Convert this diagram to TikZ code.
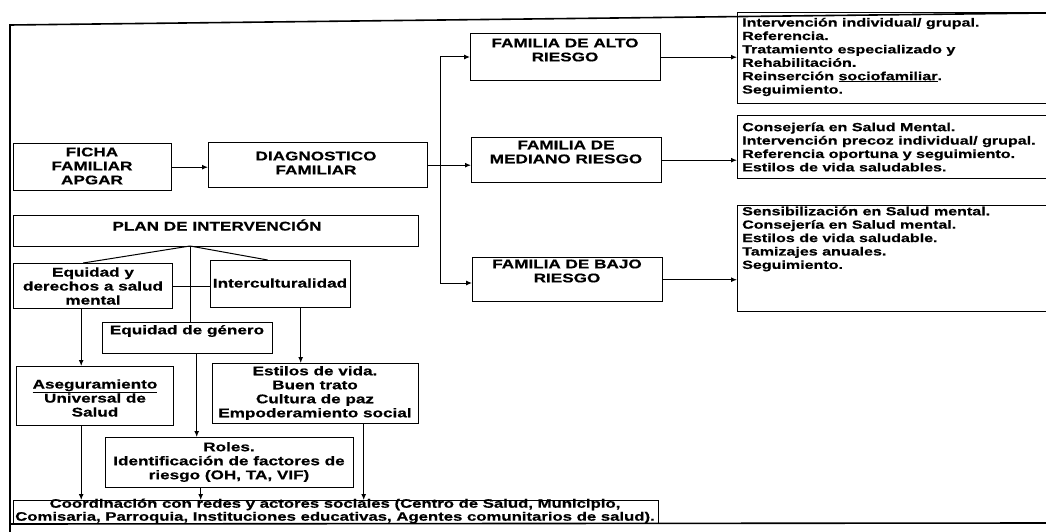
\documentclass[tikz,border=0pt]{standalone}
\usepackage{fontspec}
\setmainfont{Liberation Sans}[FakeStretch=1.36, FakeBold=0.6]
\usetikzlibrary{arrows.meta}
\tikzset{
  box/.style={draw, line width=1.4pt, inner sep=0pt, anchor=north west},
  txt/.style={font=\bfseries\fontsize{12.6}{14}\selectfont, align=center, inner sep=0pt},
  ltxt/.style={font=\bfseries\fontsize{11.8}{13.4}\selectfont, align=left, inner sep=0pt, anchor=west},
  con/.style={line width=1pt},
  arr/.style={con, -{Latex[length=6pt,width=5pt]}},
  frame/.style={line width=1.6pt},
}
\begin{document}
\begin{tikzpicture}[x=1pt,y=-1pt]
\useasboundingbox (0,0) rectangle (1046,532);
\clip (0,0) rectangle (1046,532);
% outer frame
\draw[frame] (10,532) -- (10,25) -- (1046,13);
\draw[frame] (10,524) -- (1046,523);
% boxes
\node[box, minimum width=158pt, minimum height=47pt] (ficha) at (13,143) {};
\node[box, minimum width=219pt, minimum height=45pt] (diag) at (208,142) {};
\node[box, minimum width=190pt, minimum height=47pt] (alto) at (470,33) {};
\node[box, minimum width=190pt, minimum height=45pt] (mediano) at (471,137) {};
\node[box, minimum width=190pt, minimum height=44pt] (bajo) at (472,257) {};
\node[box, minimum width=330pt, minimum height=91pt] (altolist) at (737,12) {};
\node[box, minimum width=330pt, minimum height=63pt] (medlist) at (737,115) {};
\node[box, minimum width=330pt, minimum height=106pt] (bajolist) at (737,205) {};
\node[box, minimum width=405pt, minimum height=31pt] (plan) at (13,215) {};
\node[box, minimum width=159pt, minimum height=45pt] (equidad) at (13,263) {};
\node[box, minimum width=140pt, minimum height=47pt] (intercult) at (210,260) {};
\node[box, minimum width=170pt, minimum height=31pt] (genero) at (102,322) {};
\node[box, minimum width=157pt, minimum height=59pt] (asegur) at (16,366) {};
\node[box, minimum width=206pt, minimum height=60pt] (estilos) at (212,363) {};
\node[box, minimum width=248pt, minimum height=50pt] (roles) at (105,437) {};
\node[box, minimum width=645pt, minimum height=23pt] (coord) at (13,500) {};
% texts
\node[txt] (fichaT) at (92,166) {FICHA\\FAMILIAR\\APGAR};
\node[txt] (diagT) at (316,163) {DIAGNOSTICO\\FAMILIAR};
\node[txt] (altoT) at (565,50) {FAMILIA DE ALTO\\RIESGO};
\node[txt] (medianoT) at (566,152) {FAMILIA DE\\MEDIANO RIESGO};
\node[txt] (bajoT) at (567,271) {FAMILIA DE BAJO\\RIESGO};
\node[ltxt] (altolistT) at (742,57) {Intervención individual/ grupal.\\Referencia.\\Tratamiento especializado y\\Rehabilitación.\\Reinserción \underline{sociofamiliar}.\\Seguimiento.};
\node[ltxt] (medlistT) at (742,147) {Consejería en Salud Mental.\\Intervención precoz individual/ grupal.\\Referencia oportuna y seguimiento.\\Estilos de vida saludables.};
\node[ltxt] (bajolistT) at (742,239) {Sensibilización en Salud mental.\\Consejería en Salud mental.\\Estilos de vida saludable.\\Tamizajes anuales.\\Seguimiento.};
\node[txt] (planT) at (217,225) {PLAN DE INTERVENCIÓN};
\node[txt] (equidadT) at (93,286) {Equidad y\\derechos a salud\\mental};
\node[txt] (intercultT) at (280,283) {Interculturalidad};
\node[txt] (generoT) at (187,331) {Equidad de género};
\node[txt] (asegurT) at (95,398) {\underline{Aseguramiento}\\Universal de\\Salud};
\node[txt] (estilosT) at (315,393) {Estilos de vida.\\Buen trato\\Cultura de paz\\Empoderamiento social};
\node[txt] (rolesT) at (229,462) {Roles.\\Identificación de factores de\\riesgo (OH, TA, VIF)};
\node[txt, font=\bfseries\fontsize{12.3}{13}\selectfont] (coordT) at (335,511) {Coordinación con redes y actores sociales (Centro de Salud, Municipio,\\Comisaria, Parroquia, Instituciones educativas, Agentes comunitarios de salud).};
% connectors
\draw[arr] (ficha.east) -- (ficha.east -| diag.west);
\draw[arr] (diag.east) -- (diag.east -| mediano.west);
\coordinate (t1) at (440,57);
\coordinate (t2) at (440,283);
\draw[con] (t1) -- (t2);
\draw[arr] (t1) -- (t1 -| alto.west);
\draw[arr] (t2) -- (t2 -| bajo.west);
\draw[arr] (alto.east) -- (alto.east -| altolist.west);
\draw[arr] (mediano.east) -- (mediano.east -| medlist.west);
\draw[arr] (bajo.east) -- (bajo.east -| bajolist.west);
\coordinate (pa) at (190,246);
\draw[con] (pa) -- ([xshift=-10pt]equidad.north);
\draw[con] (pa) -- ([xshift=-13pt]intercult.north);
\draw[con] (pa) -- (pa |- genero.north);
\draw[con] (equidad.east) -- (equidad.east -| intercult.west);
\draw[arr] ([xshift=-12pt]equidad.south) -- ([xshift=-12pt]equidad.south |- asegur.north);
\draw[arr] ([xshift=20pt]intercult.south) -- ([xshift=20pt]intercult.south |- estilos.north);
\draw[arr] ([xshift=9pt]genero.south) -- ([xshift=9pt]genero.south |- roles.north);
\draw[arr] ([xshift=-14pt]asegur.south) -- ([xshift=-14pt]asegur.south |- coord.north);
\draw[arr] ([xshift=-29pt]roles.south) -- ([xshift=-29pt]roles.south |- coord.north);
\draw[arr] ([xshift=48pt]estilos.south) -- ([xshift=48pt]estilos.south |- coord.north);
\end{tikzpicture}
\end{document}
